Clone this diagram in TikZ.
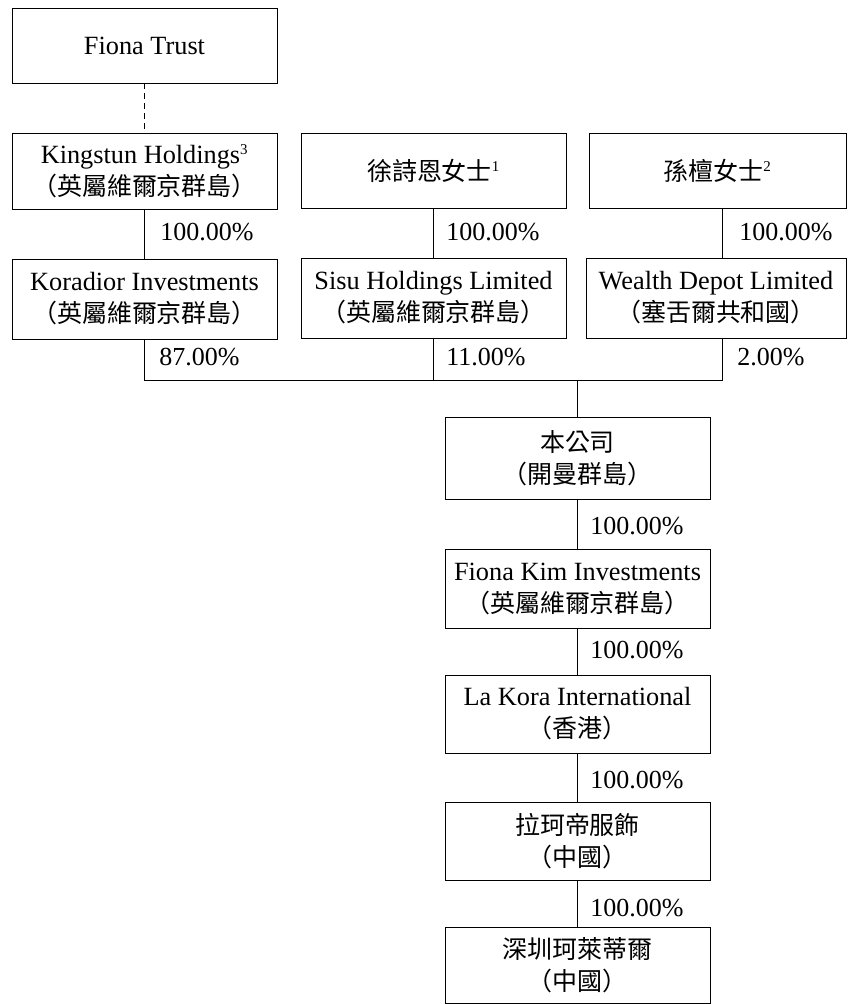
\documentclass[tikz,border=0pt]{standalone}
\usepackage{fontspec}
\setmainfont{Liberation Serif}
\newfontfamily\cjk[Scale=0.95]{Noto Sans CJK TC}
\newcommand{\note}[1]{\textsuperscript{\fontsize{15}{15}\selectfont #1}}

\begin{document}
\begin{tikzpicture}[x=1pt,y=-1pt,line width=0.8pt,
  entity/.style={draw,align=center,minimum width=265pt,minimum height=78pt,
    inner sep=0pt,font=\fontsize{26.3}{32}\selectfont},
  share/.style={right,inner sep=0pt,font=\fontsize{26}{30}\selectfont}]
\useasboundingbox (0,0) rectangle (848,1004);

% top row
\node[entity,minimum height=75pt] (trust) at (144.5,45.5) {Fiona Trust};
\node[entity,minimum height=76pt] (kingstun) at (144.5,171) {Kingstun Holdings\note{3}\\{\cjk （英屬維爾京群島）}};
\node[entity,minimum height=75pt] (xu) at (433.5,170.5) {{\cjk 徐詩恩女士}\note{1}};
\node[entity,minimum width=257pt,minimum height=75pt] (sun) at (717.5,170.5) {{\cjk 孫檀女士}\note{2}};

% holding companies
\node[entity,minimum height=80pt] (koradior) at (144.5,299) {Koradior Investments\\{\cjk （英屬維爾京群島）}};
\node[entity,minimum height=80pt] (sisu) at (433.5,298) {Sisu Holdings Limited\\{\cjk （英屬維爾京群島）}};
\node[entity,minimum width=260pt,minimum height=80pt] (wealth) at (716,298) {Wealth Depot Limited\\{\cjk （塞舌爾共和國）}};

% group
\node[entity,minimum height=82pt] (company) at (577.5,458) {{\cjk 本公司}\\{\cjk （開曼群島）}};
\node[entity,minimum height=79pt] (fionakim) at (577.5,588.5) {Fiona Kim Investments\\{\cjk （英屬維爾京群島）}};
\node[entity] (lakora) at (577.5,714) {La Kora International\\{\cjk （香港）}};
\node[entity] (lakeddi) at (577.5,841) {{\cjk 拉珂帝服飾}\\{\cjk （中國）}};
\node[entity,minimum height=76pt] (shenzhen) at (577.5,965) {{\cjk 深圳珂萊蒂爾}\\{\cjk （中國）}};

\coordinate (wline) at (722,0);
\coordinate (bus) at (577.5,380);

\draw[dash pattern=on 6pt off 4pt] (trust) -- (kingstun);
\draw (kingstun) -- (koradior);
\draw (xu) -- (sisu);
\draw (sun.south -| wline) -- (wealth.north -| wline);
\draw (koradior.south) |- (bus -| wline) -- (wealth.south -| wline);
\draw (sisu.south) -- (sisu.south |- bus);
\draw (bus) -- (company.north);
\foreach \a/\b in {company/fionakim,fionakim/lakora,lakora/lakeddi,lakeddi/shenzhen}
  \draw (\a) -- (\b);

\node[share] (pk) at (160,232) {100.00\%};
\node[share] (px) at (446,232) {100.00\%};
\node[share] (ps) at (739,232) {100.00\%};
\node[share] (pko) at (159,357) {87.00\%};
\node[share] (psi) at (446,357) {11.00\%};
\node[share] (pw) at (737,357) {2.00\%};
\node[share] (pc) at (590,526) {100.00\%};
\node[share] (pf) at (590,650) {100.00\%};
\node[share] (pl) at (590,780) {100.00\%};
\node[share] (pd) at (590,908) {100.00\%};
\end{tikzpicture}
\end{document}
